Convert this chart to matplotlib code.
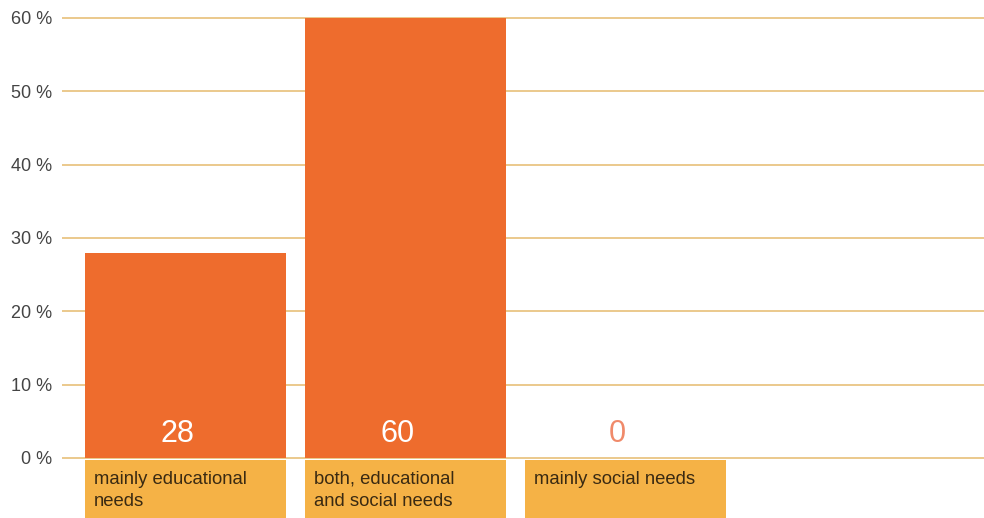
import matplotlib
matplotlib.use("Agg")
import matplotlib.pyplot as plt

categories = ["mainly educational\nneeds", "both, educational\nand social needs", "mainly social needs"]
values = [28, 60, 0]
yticks = [0, 10, 20, 30, 40, 50, 60]
ytick_labels = ["0 %", "10 %", "20 %", "30 %", "40 %", "50 %", "60 %"]

plt.rcParams['font.family'] = ['Liberation Sans', 'DejaVu Sans']

W, H = 984, 518
fig = plt.figure(figsize=(W / 100, H / 100), dpi=100)
ppu = 440 / 60.0  # pixels per percent
top_px = 14
ax = fig.add_axes([62 / W, 0, 922 / W, (H - top_px) / H])
ymin = -(H - 458) / ppu
ymax = 60 + (18 - top_px) / ppu
ax.set_ylim(ymin, ymax)
spacing = 220.0
x0 = (185.5 - 62) / spacing
ax.set_xlim(-x0, -x0 + 922 / spacing)

for s in ax.spines.values():
    s.set_visible(False)

ax.set_yticks(yticks)
ax.set_yticklabels(ytick_labels, fontsize=13, color="#444444")
ax.tick_params(axis='y', length=0, pad=7)
ax.set_xticks([])
ax.grid(axis='y', color="#EBC98C", linewidth=1.4, zorder=0)
ax.set_axisbelow(True)

xs = list(range(len(values)))
bw = 201 / spacing
ax.bar(xs, values, width=bw, color="#EE6C2D", zorder=2)

gap = 2 / ppu
box_h = (H - 460) / ppu
ax.bar(xs, [-box_h] * len(xs), bottom=-gap, width=bw, color="#F5B246", zorder=2, clip_on=False)

for x, v, lab in zip(xs, values, categories):
    col = "white" if v > 4 else "#F08A6A"
    ax.text(x - 8 / spacing, 24 / ppu, str(v), ha='center', va='center', fontsize=22, color=col, zorder=3)
    ax.text(x - bw / 2 + 9 / spacing, -13 / ppu, lab, ha='left', va='top', fontsize=13.3,
            color="#3A2A12", linespacing=1.35, zorder=3)

fig.savefig("out.png", dpi=100)
